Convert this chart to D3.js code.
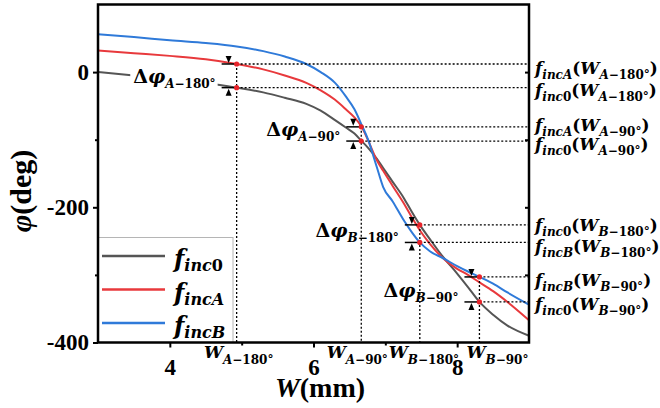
<!DOCTYPE html>
<html>
<head>
<meta charset="utf-8">
<script src="https://cdn.jsdelivr.net/npm/d3@7"></script>
<style>
html, body { margin: 0; padding: 0; background: #fff; }
svg { display: block; }
</style>
</head>
<body>
<svg id="chart" width="660" height="408"></svg>
<script>
// W (mm) samples shared by the three curves
const wGrid = [3.0, 3.5, 4.0, 4.5, 4.93, 5.3, 5.6, 5.9, 6.1, 6.3, 6.45, 6.57, 6.67, 6.76, 6.88, 6.97, 7.1, 7.25, 7.37, 7.48, 7.62, 7.8, 8.0, 8.15, 8.31, 8.5, 8.7, 9.0];
const phiInc0 = [0, -5, -10, -16, -23, -30, -38, -47, -57, -71, -82, -91, -102, -112, -128, -142, -162, -185, -207, -226, -247, -273, -298, -318, -340, -359, -375, -390];
const phiIncA = [32, 28, 24, 19, 12, 4, -5, -16, -27, -41, -55, -67, -81, -101, -130, -146, -168, -193, -215, -234, -254, -275, -291, -300, -311, -324, -340, -367];
const phiIncB = [56, 52, 47, 43, 38, 31, 23, 12, 0, -16, -36, -55, -78, -100, -140, -170, -191, -218, -237, -252, -265, -275, -287, -295, -303, -313, -326, -344];

const seriesNames = ['inc0', 'incA', 'incB'];
const seriesColors = ['#555555', '#e8393c', '#2f7ad9'];

// marked widths and the phase read at each of them
const markNames = ['A−180', 'A−90', 'B−180', 'B−90'];
const markW = [4.93, 6.665, 7.48, 8.31];
const markUpper = [12, -81, -226, -303];
const markLower = [-23, -102, -252, -340];
const upperFn = ['incA', 'incA', 'inc0', 'incB'];
const lowerFn = ['inc0', 'inc0', 'incB', 'inc0'];

const xMajor = [4, 6, 8];
const xMinor = [5, 7];
const yMajor = [-400, -200, 0];
const yMinor = [-300, -100];
const yRight = [-300, -200, -100, 0];

// layout tweaks for the annotation text
const upperLabelDy = [10, 4, 6, 9];
const lowerLabelDy = [8, 9, 10, 8];
const wLabelDx = [2, -4, 4, 18];

const svg = d3.select('#chart');
const plotL = 98, plotR = 529, plotT = 4.5, plotB = 342.5;

const x = d3.scaleLinear().domain([3, 9]).range([plotL, plotR]);
const y = d3.scaleLinear().domain([-400, 100]).range([plotB, plotT]);

function subSplit(s) {
    return s.match(/[A-Za-z]+|[^A-Za-z]+/g).map(p => [p, /[A-Za-z]/.test(p) ? 's' : 'u']);
}

// m = main italic, r = main upright, s = sub italic, u = sub upright
function mathText(sel, parts, opt) {
    const t = sel.append('text')
        .attr('font-family', opt.family || 'DejaVu Serif')
        .attr('font-weight', 'bold')
        .attr('fill', '#000');
    let shift = 0;
    parts.forEach(([txt, role]) => {
        const sub = role === 's' || role === 'u';
        const target = sub ? opt.shift : 0;
        t.append('tspan')
            .attr('dy', target - shift)
            .attr('font-size', sub ? opt.sub : opt.main)
            .attr('font-style', (role === 'm' || role === 's') ? 'italic' : 'normal')
            .text(txt);
        shift = target;
    });
    return t;
}

// curves
const line = d3.line()
    .x(d => x(d[0]))
    .y(d => y(d[1]))
    .curve(d3.curveMonotoneX);

[phiInc0, phiIncA, phiIncB].forEach((vals, i) => {
    svg.append('path')
        .attr('d', line(wGrid.map((w, j) => [w, vals[j]])))
        .attr('fill', 'none')
        .attr('stroke', seriesColors[i])
        .attr('stroke-width', 2);
});

// delta labels (first one sits on the grey curve with a white backing)
const gDelta = svg.append('g');
markNames.forEach((nm, i) => {
    const t = mathText(gDelta, [['Δ', 'r'], ['φ', 'm'], ...subSplit(nm + '°')], { main: 19, sub: 12, shift: 5 })
        .attr('x', x(markW[i]) - 21)
        .attr('y', y(markLower[i]) - 5)
        .attr('text-anchor', 'end');
    if (i === 0) {
        const bb = t.node().getBBox();
        gDelta.insert('rect', 'text')
            .attr('x', bb.x - 3).attr('y', bb.y + 2)
            .attr('width', bb.width + 5).attr('height', bb.height - 2)
            .attr('fill', '#fff');
    }
});

// dotted guides
const gGuide = svg.append('g')
    .attr('stroke', '#000')
    .attr('stroke-width', 1.3)
    .attr('stroke-dasharray', '2,2');
markW.forEach((w, i) => {
    gGuide.append('line')
        .attr('x1', x(w)).attr('x2', x(w))
        .attr('y1', y(markUpper[i])).attr('y2', plotB);
    [markUpper[i], markLower[i]].forEach(v => {
        gGuide.append('line')
            .attr('x1', x(w)).attr('x2', plotR)
            .attr('y1', y(v)).attr('y2', y(v));
    });
});

// difference markers: bar + arrowhead, plus red dots
const gMark = svg.append('g');
markW.forEach((w, i) => {
    const cx = x(w);
    const yu = y(markUpper[i]);
    const yl = y(markLower[i]);
    gMark.append('line').attr('x1', cx - 15).attr('x2', cx).attr('y1', yu).attr('y2', yu)
        .attr('stroke', '#000').attr('stroke-width', 1.5);
    gMark.append('line').attr('x1', cx - 15).attr('x2', cx).attr('y1', yl).attr('y2', yl)
        .attr('stroke', '#000').attr('stroke-width', 1.5);
    const ax = cx - 8;
    gMark.append('path')
        .attr('d', `M${ax - 3},${yu - 8}L${ax + 3},${yu - 8}L${ax},${yu - 1}Z`)
        .attr('fill', '#000');
    gMark.append('path')
        .attr('d', `M${ax - 3},${yl + 8}L${ax + 3},${yl + 8}L${ax},${yl + 1}Z`)
        .attr('fill', '#000');
    [yu, yl].forEach(yy => {
        gMark.append('circle').attr('cx', cx).attr('cy', yy).attr('r', 2.6).attr('fill', '#e8232a');
    });
});

// right-hand labels
const gRight = svg.append('g');
markW.forEach((w, i) => {
    [[upperFn[i], markUpper[i], upperLabelDy[i]], [lowerFn[i], markLower[i], lowerLabelDy[i]]].forEach(([fn, v, dy]) => {
        mathText(gRight, [['f', 'm'], ...subSplit(fn), ['(', 'r'], ['W', 'm'], ...subSplit(markNames[i] + '°'), [')', 'r']],
            { main: 17, sub: 12, shift: 5 })
            .attr('x', plotR + 6)
            .attr('y', y(v) + dy);
    });
});

// legend
const gLeg = svg.append('g');
gLeg.append('rect')
    .attr('x', plotL + 0.5).attr('y', 237.5)
    .attr('width', 134.5).attr('height', plotB - 237.5)
    .attr('fill', '#fff').attr('stroke', '#b5b5b5').attr('stroke-width', 1);
seriesNames.forEach((nm, i) => {
    const ly = 256 + i * 33.5;
    gLeg.append('line')
        .attr('x1', plotL + 4).attr('x2', plotL + 67)
        .attr('y1', ly).attr('y2', ly)
        .attr('stroke', seriesColors[i]).attr('stroke-width', 2.5);
    mathText(gLeg, [['f', 'm'], ...subSplit(nm)], { main: 24, sub: 16, shift: 4 })
        .attr('x', plotL + 76)
        .attr('y', ly + 11);
});

// axes
const tickFont = g => g.selectAll('text')
    .attr('font-family', 'Liberation Serif')
    .attr('font-weight', 'bold')
    .attr('font-size', 23)
    .attr('fill', '#000');
const tickStroke = g => {
    g.select('.domain').remove();
    g.selectAll('line').attr('stroke', '#000').attr('stroke-width', 2);
};

svg.append('g')
    .attr('transform', `translate(${plotL},0)`)
    .call(d3.axisLeft(y).tickValues(yMajor).tickSize(5).tickPadding(4).tickFormat(d => String(d)))
    .call(tickStroke).call(tickFont);
svg.append('g')
    .attr('transform', `translate(${plotL},0)`)
    .call(d3.axisLeft(y).tickValues(yMinor).tickSize(3).tickFormat(''))
    .call(tickStroke);
svg.append('g')
    .attr('transform', `translate(${plotR},0)`)
    .call(d3.axisRight(y).tickValues(yRight).tickSize(-4).tickFormat(''))
    .call(tickStroke);
svg.append('g')
    .attr('transform', `translate(0,${plotB})`)
    .call(d3.axisBottom(x).tickValues(xMajor).tickSize(5).tickPadding(11).tickFormat(d => String(d)))
    .call(tickStroke).call(tickFont);
svg.append('g')
    .attr('transform', `translate(0,${plotB})`)
    .call(d3.axisBottom(x).tickValues(xMinor).tickSize(3).tickFormat(''))
    .call(tickStroke);

svg.append('rect')
    .attr('x', plotL).attr('y', plotT)
    .attr('width', plotR - plotL).attr('height', plotB - plotT)
    .attr('fill', 'none').attr('stroke', '#000').attr('stroke-width', 2.5);

// W markers under the axis
markW.forEach((w, i) => {
    mathText(svg, [['W', 'm'], ...subSplit(markNames[i] + '°')], { main: 17, sub: 12, shift: 6 })
        .attr('x', x(w) + wLabelDx[i])
        .attr('y', 358)
        .attr('text-anchor', 'middle');
});

// axis titles
const xt = svg.append('text')
    .attr('x', 320).attr('y', 397)
    .attr('text-anchor', 'middle')
    .attr('font-family', 'Liberation Serif')
    .attr('font-weight', 'bold')
    .attr('font-size', 28);
xt.append('tspan').attr('font-style', 'italic').text('W');
xt.append('tspan').text('(mm)');

const yt = svg.append('text')
    .attr('transform', 'translate(31,191) rotate(-90)')
    .attr('text-anchor', 'middle')
    .attr('font-family', 'Liberation Serif')
    .attr('font-weight', 'bold')
    .attr('font-size', 30);
yt.append('tspan').attr('font-style', 'italic').text('φ');
yt.append('tspan').text('(deg)');
</script>
</body>
</html>
